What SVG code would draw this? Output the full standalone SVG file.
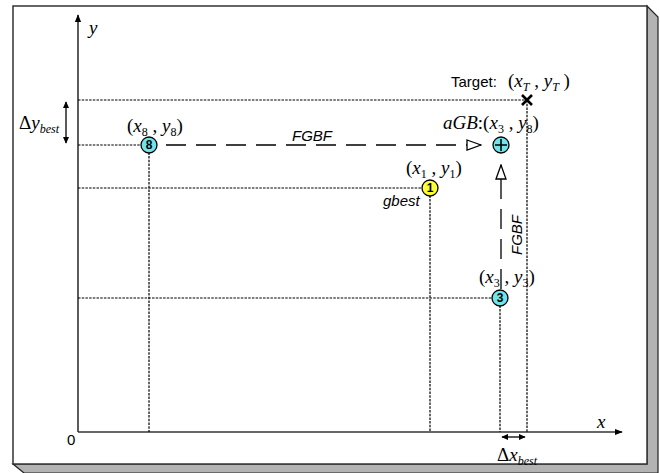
<svg xmlns="http://www.w3.org/2000/svg" width="660" height="473" viewBox="0 0 660 473">
  <defs>
    <marker id="solidHead" viewBox="0 0 10 10" refX="9" refY="5" markerWidth="8" markerHeight="9" orient="auto" markerUnits="userSpaceOnUse">
      <path d="M0,1 L10,5 L0,9 Z" fill="#000"/>
    </marker>
    <marker id="dblHead" viewBox="0 0 10 10" refX="9" refY="5" markerWidth="7" markerHeight="7" orient="auto-start-reverse" markerUnits="userSpaceOnUse">
      <path d="M0,0.5 L10,5 L0,9.5 Z" fill="#000"/>
    </marker>
    <marker id="openHead" viewBox="0 0 16 12" refX="15" refY="6" markerWidth="16" markerHeight="12" orient="auto" markerUnits="userSpaceOnUse">
      <path d="M1,1 L15,6 L1,11 Z" fill="#fff" stroke="#000" stroke-width="1.3"/>
    </marker>
  </defs>
  <style>
    .frame { fill: #fff; stroke: #333; stroke-width: 1.5; }
    .bevel { fill: #b3b3b3; stroke: #222; stroke-width: 1.2; }
    .axis { stroke: #333; stroke-width: 1.6; fill: none; }
    .guide { stroke: #000; stroke-width: 1.2; stroke-dasharray: 2.5 1.2; fill: none; }
    .flow { stroke: #000; stroke-width: 1.3; stroke-dasharray: 20 10; fill: none; }
    .span { stroke: #000; stroke-width: 1.3; fill: none; }
    .cyan { fill: #6fe4ea; stroke: #000; stroke-width: 1.3; }
    .yellow { fill: #ffff33; stroke: #000; stroke-width: 1.3; }
    .math { font-family: "Liberation Serif", "Times New Roman", serif; font-size: 19px; fill: #000; }
    .it { font-style: italic; }
    .sub { font-size: 12px; }
    .sans { font-family: "Liberation Sans", Arial, sans-serif; font-size: 15px; fill: #000; }
    .num { font-family: "Liberation Sans", Arial, sans-serif; font-size: 12px; font-weight: bold; fill: #000; text-anchor: middle; }
  </style>

  <!-- raised panel with bevelled shadow -->
  <g id="panel">
    <polygon class="bevel" points="647,6 658,17 658,473 24,473 13,464 647,464"/>
    <rect class="frame" x="13" y="6" width="634" height="458"/>
  </g>

  <!-- coordinate axes -->
  <g id="axes">
    <line class="axis" x1="78" y1="432" x2="78" y2="15" marker-end="url(#solidHead)"/>
    <line class="axis" x1="78" y1="432" x2="622" y2="432" marker-end="url(#solidHead)"/>
    <text class="math it" x="89" y="34" font-size="21">y</text>
    <text class="math it" x="597" y="428" font-size="21">x</text>
    <text class="sans" x="67" y="445" font-size="13">0</text>
  </g>

  <!-- dotted projection lines -->
  <g id="guides">
    <line class="guide" x1="78" y1="100" x2="527" y2="100"/>
    <line class="guide" x1="78" y1="145" x2="141" y2="145"/>
    <line class="guide" x1="78" y1="188" x2="430" y2="188"/>
    <line class="guide" x1="78" y1="298" x2="500" y2="298"/>
    <line class="guide" x1="149" y1="145" x2="149" y2="432"/>
    <line class="guide" x1="430" y1="188" x2="430" y2="432"/>
    <line class="guide" x1="500" y1="298" x2="500" y2="432"/>
    <line class="guide" x1="527" y1="100" x2="527" y2="432"/>
  </g>

  <!-- FGBF connectors -->
  <g id="connectors">
    <line class="flow" x1="166" y1="145" x2="481" y2="145" marker-end="url(#openHead)"/>
    <line class="flow" x1="501" y1="289" x2="501" y2="165" marker-end="url(#openHead)"/>
    <text class="sans it" x="292" y="141" font-size="16">FGBF</text>
    <text class="sans it" font-size="16" transform="translate(522,255) rotate(-90)">FGBF</text>
  </g>

  <!-- best-offset spans -->
  <g id="spans">
    <line class="span" x1="66" y1="102" x2="66" y2="143" marker-start="url(#dblHead)" marker-end="url(#dblHead)"/>
    <text class="math" x="19" y="129">Δ<tspan class="it">y</tspan><tspan class="it sub" dy="4">best</tspan></text>
    <line class="span" x1="502" y1="437" x2="525" y2="437" marker-start="url(#dblHead)" marker-end="url(#dblHead)"/>
    <text class="math" x="497" y="461">Δ<tspan class="it">x</tspan><tspan class="it sub" dy="4">best</tspan></text>
  </g>

  <g id="target">
    <path d="M522,95 L532,105 M532,95 L522,105" stroke="#000" stroke-width="2.6"/>
    <text class="sans" x="451" y="87">Target:</text>
    <text class="math" x="508" y="87">(<tspan class="it">x</tspan><tspan class="it sub" dy="4">T</tspan><tspan dy="-4"> , </tspan><tspan class="it">y</tspan><tspan class="it sub" dy="4">T</tspan><tspan dy="-4"> )</tspan></text>
  </g>

  <g id="p8">
    <circle class="cyan" cx="149" cy="145" r="8"/>
    <text class="num" x="149" y="149">8</text>
    <text class="math" x="127" y="132">(<tspan class="it">x</tspan><tspan class="sub" dy="4">8</tspan><tspan dy="-4"> , </tspan><tspan class="it">y</tspan><tspan class="sub" dy="4">8</tspan><tspan dy="-4">)</tspan></text>
  </g>

  <g id="p1">
    <circle class="yellow" cx="430" cy="188" r="8"/>
    <text class="num" x="430" y="192">1</text>
    <text class="math" x="406" y="174">(<tspan class="it">x</tspan><tspan class="sub" dy="4">1</tspan><tspan dy="-4"> , </tspan><tspan class="it">y</tspan><tspan class="sub" dy="4">1</tspan><tspan dy="-4">)</tspan></text>
    <text class="sans it" x="383" y="206">gbest</text>
  </g>

  <g id="p3">
    <circle class="cyan" cx="500" cy="298" r="8"/>
    <text class="num" x="500" y="302">3</text>
    <text class="math" x="479" y="283">(<tspan class="it">x</tspan><tspan class="sub" dy="4">3</tspan><tspan dy="-4"> , </tspan><tspan class="it">y</tspan><tspan class="sub" dy="4">3</tspan><tspan dy="-4">)</tspan></text>
  </g>

  <g id="aGB">
    <circle class="cyan" cx="501" cy="145" r="8"/>
    <path d="M495,145 H507 M501,139 V151" stroke="#000" stroke-width="1.6"/>
    <text class="math" x="443" y="129"><tspan class="it">aGB</tspan>:(<tspan class="it">x</tspan><tspan class="sub" dy="4">3</tspan><tspan dy="-4"> , </tspan><tspan class="it">y</tspan><tspan class="sub" dy="4">8</tspan><tspan dy="-4">)</tspan></text>
  </g>
</svg>
